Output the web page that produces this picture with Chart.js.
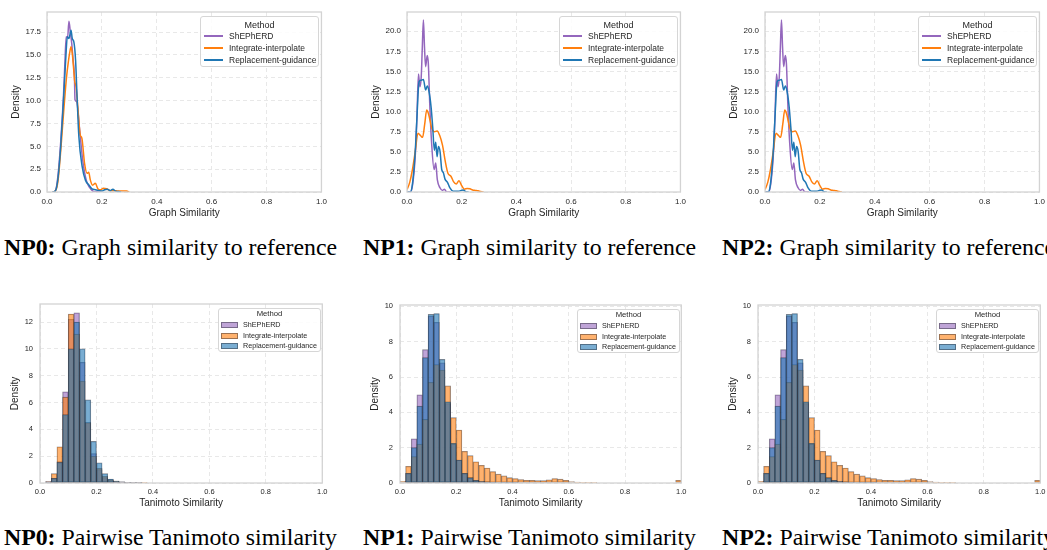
<!DOCTYPE html>
<html>
<head>
<meta charset="utf-8">
<script src="https://cdn.jsdelivr.net/npm/chart.js@4.4.0/dist/chart.umd.min.js"></script>
<style>
  body { margin: 0; width: 1047px; height: 550px; overflow: hidden; background: #fff; position: relative;
         font-family: "Liberation Sans", Arial, sans-serif; }
  canvas { position: absolute; }
  .cap { position: absolute; font-family: "Liberation Serif", "Times New Roman", serif; font-size: 23.8px;
         line-height: 24px; color: #000; white-space: nowrap; }
  .leg { position: absolute; box-sizing: border-box; border: 1px solid #d6d6d6; border-radius: 3px;
         background: rgba(255,255,255,0.85); color: #262626; }
  .leg .row { position: absolute; left: 0; right: 0; white-space: nowrap; }
  .leg .ttl { text-align: center; }
  .leg .ln { position: absolute; }
</style>
</head>
<body>
<div class="cap" style="left:4px;top:235px"><b>NP0:</b> Graph similarity to reference</div>
<div class="cap" style="left:363px;top:235px"><b>NP1:</b> Graph similarity to reference</div>
<div class="cap" style="left:722px;top:235px"><b>NP2:</b> Graph similarity to reference</div>
<div class="cap" style="left:4px;top:525px"><b>NP0:</b> Pairwise Tanimoto similarity</div>
<div class="cap" style="left:363px;top:525px"><b>NP1:</b> Pairwise Tanimoto similarity</div>
<div class="cap" style="left:722px;top:525px"><b>NP2:</b> Pairwise Tanimoto similarity</div>
<script>
const methods = ["ShEPhERD", "Integrate-interpolate", "Replacement-guidance"];
const lineColors = ["#9467bd", "#ff7f0e", "#1f77b4"];
const fillColors = ["rgba(148,103,189,0.6)", "rgba(255,127,14,0.6)", "rgba(31,119,180,0.6)"];

// tick labels
const xTickVals = [0, 0.2, 0.4, 0.6, 0.8, 1.0];
const graphTicksNP0 = [0, 2.5, 5, 7.5, 10, 12.5, 15, 17.5];
const graphTicksNP1 = [0, 2.5, 5, 7.5, 10, 12.5, 15, 17.5, 20];
const tanTicksNP0 = [0, 2, 4, 6, 8, 10, 12];
const tanTicksNP1 = [0, 2, 4, 6, 8, 10];

// graph similarity KDE, NP0
const np0ShepX = [0.02,0.03,0.04,0.05,0.06,0.065,0.07,0.075,0.08,0.085,0.09,0.095,0.1,0.102,0.108,0.118,0.13,0.143,0.155,0.167,0.18,0.2];
const np0ShepY = [0,0.1,1.8,5.5,10.5,14,17,16.9,18.7,17.5,16.3,14.5,12.6,10.1,9.9,7.1,3.5,1.3,0.5,0.1,0.02,0];
const np0IntX = [0.02,0.03,0.04,0.05,0.06,0.066,0.072,0.078,0.083,0.0876,0.092,0.097,0.101,0.106,0.112,0.121,0.127,0.137,0.146,0.152,0.158,0.166,0.176,0.186,0.195,0.205,0.217,0.23,0.245,0.26,0.275,0.29,0.3];
const np0IntY = [0,0.1,1.2,4.5,8.5,10.8,12.8,14.3,15.3,15.9,15.2,13.5,12.1,11.5,9.4,6.25,5.9,3.1,2.05,2.15,1.3,0.75,0.95,0.33,0.25,0.4,0.35,0.15,0.15,0.1,0.1,0.1,0];
const np0RepX = [0.02,0.03,0.04,0.05,0.06,0.07,0.074,0.08,0.0876,0.092,0.098,0.104,0.11,0.116,0.128,0.14,0.152,0.164,0.176,0.19,0.2,0.21,0.22,0.23,0.24,0.25,0.26,0.27];
const np0RepY = [0,0.1,1.5,5,10,15.5,17,16.8,17.7,16.8,16.4,14.5,10.1,6.1,2.8,1.3,0.8,0.35,0.25,0.15,0.1,0.25,0.3,0.15,0.3,0.1,0.05,0];

// graph similarity KDE, NP1 (NP2 panel reads the same)
const np1ShepX = [0,0.012,0.02,0.03,0.036,0.042,0.047,0.052,0.056,0.06,0.064,0.068,0.074,0.078,0.084,0.09,0.099,0.105,0.111,0.121,0.13,0.137,0.145,0.16];
const np1ShepY = [0,0,0.8,4.4,9,14.7,13.1,14.3,18,21.4,18,15.6,17,16,10.2,6.1,2.8,3.6,1.5,0.5,0.2,0.35,0,0];
const np1IntX = [0,0.01,0.02,0.03,0.04,0.05,0.057,0.065,0.072,0.078,0.085,0.09,0.1,0.11,0.12,0.13,0.14,0.15,0.16,0.17,0.18,0.19,0.2,0.21,0.22,0.23,0.24,0.25,0.26,0.27,0.28];
const np1IntY = [0.3,1.2,2.8,5,7.3,7.0,6.8,8.5,10.2,9.8,8.8,8.0,7.5,7.6,7.0,5.8,3.8,2.3,2.0,1.3,1.0,1.4,0.8,0.35,0.45,0.4,0.25,0.2,0.15,0.05,0];
const np1RepX = [0,0.012,0.02,0.03,0.036,0.044,0.052,0.06,0.068,0.074,0.08,0.088,0.094,0.1,0.105,0.11,0.115,0.121,0.127,0.133,0.139,0.148,0.157,0.169,0.187,0.205,0.215,0.225];
const np1RepY = [0,0,1,5,9,13.7,13.9,14,12.7,13.2,12.6,10.6,8.1,5.2,6.2,4.4,5.65,5,2.8,2.4,1.6,1.2,0.5,0.1,0.1,0.25,0.05,0];

// tanimoto histogram bins (width 0.02)
const binCenters = [0.01,0.03,0.05,0.07,0.09,0.11,0.13,0.15,0.17,0.19,0.21,0.23,0.25,0.27,0.29,0.31,0.33,0.35,0.37,0.39,
  0.41,0.43,0.45,0.47,0.49,0.51,0.53,0.55,0.57,0.59,0.61,0.63,0.65,0.67,0.69,0.71,0.73,0.75,0.77,0.79,
  0.81,0.83,0.85,0.87,0.89,0.91,0.93,0.95,0.97,0.99];
const np0TanShep = [0,0.1,0.35,1.6,6.8,12.2,12.7,9.0,4.5,2.2,1.0,0.4,0.2,0.1,0.05,0.03,0.02,0.01,0];
const np0TanInt = [0,0.1,0.7,2.7,6.4,12.6,11.1,7.6,4.5,2.0,1.1,0.5,0.25,0.15,0.08,0.05,0.03,0.02,0.01];
const np0TanRep = [0,0.05,0.35,1.55,5.1,10.0,12.0,10.0,6.2,3.1,1.5,0.7,0.3,0.15,0.08,0.05,0.03,0.02,0];
const np1TanShep = [0,0.55,2.5,5.0,7.55,9.45,9.1,6.8,4.5,2.2,1.3,0.55,0.3,0.15,0.1,0.06,0.04,0.03,0.02,0.02,0.02];
const np1TanInt = [0.1,0.95,1.5,2.2,3.6,5.7,6.7,6.4,5.5,3.7,3.0,1.8,1.55,1.2,1.0,0.85,0.65,0.5,0.4,0.3,
  0.25,0.2,0.15,0.15,0.13,0.13,0.18,0.25,0.22,0.15,0.08,0.05,0.04,0.02,0.02,0,0,0,0,0,
  0,0,0,0,0,0,0,0,0,0.15];
const np1TanRep = [0,0.55,2.0,4.35,7.1,9.55,9.6,7.0,4.6,2.25,1.3,0.55,0.3,0.15,0.1,0.06,0.04,0.03,0.02,0.02,0.02];

const FONT = '"Liberation Sans", Arial, sans-serif';
const INK = "#262626";
const GRID = "#e8e8e8";

const frame = {
  id: "frame",
  afterDraw(chart) {
    const { ctx, chartArea: a } = chart;
    ctx.save();
    ctx.strokeStyle = "#d3d3d3";
    ctx.lineWidth = 1.3;
    ctx.strokeRect(a.left, a.top, a.right - a.left, a.bottom - a.top);
    ctx.restore();
  },
};

function kdeSets(xs, ys) {
  return xs.map((x, i) => ({
    type: "line",
    label: methods[i],
    data: x.map((v, j) => ({ x: v, y: ys[i][j] })),
    borderColor: lineColors[i],
    borderWidth: 1.5,
    pointRadius: 0,
    cubicInterpolationMode: "monotone",
    order: 3 - i,
  }));
}

function histSets(series) {
  return series.map((vals, i) => ({
    type: "bar",
    label: methods[i],
    data: vals.map((v, j) => ({ x: binCenters[j], y: v > 0 ? v : null })),
    backgroundColor: fillColors[i],
    borderColor: "rgba(35,35,45,0.55)",
    borderWidth: 0.6,
    borderSkipped: false,
    grouped: false,
    barPercentage: 1,
    categoryPercentage: 1,
    order: 3 - i,
  }));
}

function plot(box, o) {
  const pt = 12, pr = 8;
  const canvas = document.createElement("canvas");
  const w = box.r - box.l + o.yw + pr;
  const h = box.b - box.t + pt + o.xh;
  canvas.width = w;
  canvas.height = h;
  canvas.style.left = box.l - o.yw + "px";
  canvas.style.top = box.t - pt + "px";
  document.body.appendChild(canvas);
  const tickFont = { family: FONT, size: o.tickSize };
  const titleFont = { family: FONT, size: 10 };
  new Chart(canvas, {
    type: o.type,
    data: { datasets: o.datasets },
    options: {
      responsive: false,
      animation: false,
      layout: { padding: { top: pt, right: pr, left: 0, bottom: 0 } },
      plugins: { legend: { display: false }, tooltip: { enabled: false } },
      scales: {
        x: {
          type: "linear", min: 0, max: 1, offset: false,
          grid: { color: GRID, drawTicks: false, offset: false },
          border: { display: false, dash: [4, 3] },
          ticks: { font: tickFont, color: INK, padding: o.xPad, maxRotation: 0, callback: (v) => v.toFixed(1) },
          afterBuildTicks: (s) => { s.ticks = xTickVals.map((v) => ({ value: v })); },
          afterFit: (s) => { s.height = o.xh; },
          title: { display: true, text: o.xTitle, font: titleFont, color: INK, padding: { top: 0, bottom: o.xTitlePad } },
        },
        y: {
          type: "linear", min: 0, max: o.yMax,
          grid: { color: GRID, drawTicks: false },
          border: { display: false, dash: [4, 3] },
          ticks: { font: tickFont, color: INK, padding: o.yPad, callback: (v) => (o.yDec ? v.toFixed(1) : String(v)) },
          afterBuildTicks: (s) => { s.ticks = o.yTicks.map((v) => ({ value: v })); },
          afterFit: (s) => { s.width = o.yw; },
          title: { display: true, text: "Density", font: titleFont, color: INK, padding: { top: o.yTitlePad, bottom: 0 } },
        },
      },
    },
    plugins: [frame],
  });
}

function legend(box, small) {
  const d = document.createElement("div");
  d.className = "leg";
  const W = small ? 103 : 119, H = small ? 44 : 51;
  d.style.width = W + "px";
  d.style.height = H + "px";
  d.style.left = box.r - (small ? 3 : 5) - W + "px";
  d.style.top = box.t + 4 + "px";
  const centers = small ? [5, 16, 26.5, 37] : [7.5, 19, 31, 43];
  const fs = small ? 7.2 : 8.5, tfs = small ? 7.7 : 9;
  let html = `<div class="row ttl" style="top:${centers[0] - 6}px;height:12px;line-height:12px;font-size:${tfs}px">Method</div>`;
  methods.forEach((m, i) => {
    const c = centers[i + 1];
    const mark = small
      ? `<span class="ln" style="left:2px;top:${Math.round(c - 3)}px;width:17px;height:6px;box-sizing:border-box;background:${fillColors[i]};border:1px solid rgba(35,35,45,0.45)"></span>`
      : `<span class="ln" style="left:3px;top:${Math.round(c - 1)}px;width:19px;height:0;border-top:2px solid ${lineColors[i]}"></span>`;
    html += mark + `<div class="row" style="left:${small ? 24 : 28}px;top:${c - 6}px;height:12px;line-height:12px;font-size:${fs}px">${m}</div>`;
  });
  d.innerHTML = html;
  document.body.appendChild(d);
}

const topBoxes = [
  { l: 47, r: 324, t: 12, b: 192 },
  { l: 407, r: 683, t: 12, b: 192 },
  { l: 765, r: 1042, t: 12, b: 192 },
];
const botBoxes = [
  { l: 40, r: 324, t: 304, b: 483 },
  { l: 400, r: 683, t: 305, b: 483 },
  { l: 758, r: 1042, t: 305, b: 483 },
];

const topCommon = { type: "line", xTitle: "Graph Similarity", yw: 40, xh: 30, tickSize: 8, xPad: 5, yPad: 6, xTitlePad: 3, yTitlePad: 3.5, yDec: true };
const botCommon = { type: "bar", xTitle: "Tanimoto Similarity", yw: 35, xh: 28, tickSize: 7.5, xPad: 4.5, yPad: 7, xTitlePad: 2, yTitlePad: 4, yDec: false };

plot(topBoxes[0], { ...topCommon, yMax: 19.7, yTicks: graphTicksNP0,
  datasets: kdeSets([np0ShepX, np0IntX, np0RepX], [np0ShepY, np0IntY, np0RepY]) });
plot(topBoxes[1], { ...topCommon, yMax: 22.4, yTicks: graphTicksNP1,
  datasets: kdeSets([np1ShepX, np1IntX, np1RepX], [np1ShepY, np1IntY, np1RepY]) });
plot(topBoxes[2], { ...topCommon, yMax: 22.4, yTicks: graphTicksNP1,
  datasets: kdeSets([np1ShepX, np1IntX, np1RepX], [np1ShepY, np1IntY, np1RepY]) });

plot(botBoxes[0], { ...botCommon, yMax: 13.35, yTicks: tanTicksNP0,
  datasets: histSets([np0TanShep, np0TanInt, np0TanRep]) });
plot(botBoxes[1], { ...botCommon, yMax: 10.08, yTicks: tanTicksNP1,
  datasets: histSets([np1TanShep, np1TanInt, np1TanRep]) });
plot(botBoxes[2], { ...botCommon, yMax: 10.08, yTicks: tanTicksNP1,
  datasets: histSets([np1TanShep, np1TanInt, np1TanRep]) });

topBoxes.forEach((b) => legend(b, false));
botBoxes.forEach((b) => legend(b, true));
</script>
</body>
</html>
